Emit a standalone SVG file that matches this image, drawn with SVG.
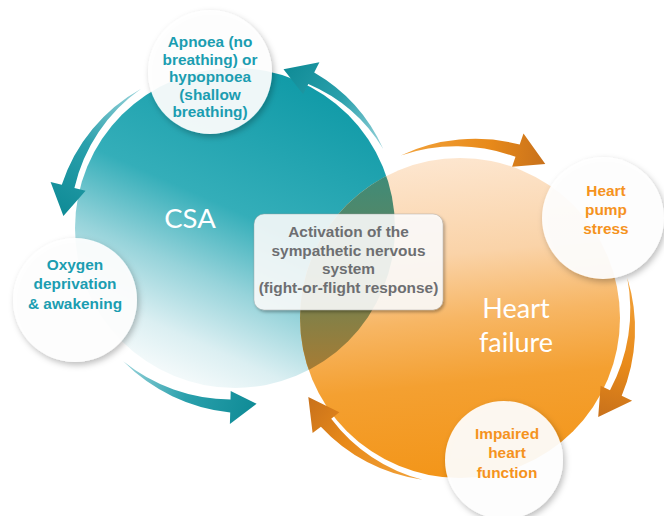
<svg xmlns="http://www.w3.org/2000/svg" width="664" height="516" viewBox="0 0 664 516">
<defs>
<style>
.nt{font-family:"Liberation Sans",Arial,sans-serif;font-weight:700;font-size:15.4px;text-anchor:middle}
.teal{fill:#1b9db1}
.orng{fill:#f5931e}
.box{fill:#6d6e71;font-size:15.4px}
.big{font-family:Lato,"Liberation Sans",sans-serif;font-weight:400;fill:#ffffff;text-anchor:middle}
.node{fill:#ffffff;fill-opacity:0.92;filter:url(#sh)}
</style>
<filter id="sh" x="-30%" y="-30%" width="160%" height="160%">
<feDropShadow dx="2" dy="3" stdDeviation="3" flood-color="#000000" flood-opacity="0.28"/>
</filter>
<filter id="bsh" x="-10%" y="-10%" width="120%" height="130%">
<feDropShadow dx="1.5" dy="2" stdDeviation="1.5" flood-color="#000000" flood-opacity="0.35"/>
</filter>
<linearGradient id="tealG" x1="0.7" y1="0.05" x2="0.3" y2="0.95">
<stop offset="0" stop-color="#129ba8"/>
<stop offset="0.45" stop-color="#34aeb9"/>
<stop offset="0.68" stop-color="#96d3da"/>
<stop offset="0.88" stop-color="#dbeff2"/>
<stop offset="1" stop-color="#f2f9fa"/>
</linearGradient>
<linearGradient id="orG" x1="0.45" y1="0" x2="0.55" y2="1">
<stop offset="0" stop-color="#fde6cf"/>
<stop offset="0.3" stop-color="#fad3a8"/>
<stop offset="0.5" stop-color="#f7b664"/>
<stop offset="0.7" stop-color="#f4a031"/>
<stop offset="1" stop-color="#f39518"/>
</linearGradient>
<linearGradient id="ovG" gradientUnits="userSpaceOnUse" x1="0" y1="165" x2="0" y2="392">
<stop offset="0" stop-color="#3a8c7c"/>
<stop offset="0.5" stop-color="#6b8354"/>
<stop offset="1" stop-color="#b57a2c"/>
</linearGradient>
<clipPath id="tealClip"><circle cx="235" cy="228" r="160"/></clipPath>
<linearGradient id="ta1" gradientUnits="userSpaceOnUse" x1="383" y1="149" x2="283" y2="69">
<stop offset="0" stop-color="#9ad4db"/><stop offset="0.5" stop-color="#2aa0ac"/><stop offset="1" stop-color="#0f8b96"/>
</linearGradient>
<linearGradient id="ta2" gradientUnits="userSpaceOnUse" x1="141" y1="89" x2="63" y2="216">
<stop offset="0" stop-color="#9ad4db"/><stop offset="0.5" stop-color="#2aa0ac"/><stop offset="1" stop-color="#0f8b96"/>
</linearGradient>
<linearGradient id="ta3" gradientUnits="userSpaceOnUse" x1="123" y1="361" x2="257" y2="404">
<stop offset="0" stop-color="#9ad4db"/><stop offset="0.5" stop-color="#2aa0ac"/><stop offset="1" stop-color="#0f8b96"/>
</linearGradient>
<linearGradient id="oa1" gradientUnits="userSpaceOnUse" x1="401" y1="155" x2="545" y2="164">
<stop offset="0" stop-color="#f2a33c"/><stop offset="0.6" stop-color="#e88a1a"/><stop offset="1" stop-color="#c8711b"/>
</linearGradient>
<linearGradient id="oa2" gradientUnits="userSpaceOnUse" x1="627" y1="278" x2="598" y2="417">
<stop offset="0" stop-color="#f2a33c"/><stop offset="0.6" stop-color="#e88a1a"/><stop offset="1" stop-color="#c8711b"/>
</linearGradient>
<linearGradient id="oa3" gradientUnits="userSpaceOnUse" x1="423" y1="480" x2="308" y2="397">
<stop offset="0" stop-color="#f2a33c"/><stop offset="0.6" stop-color="#e88a1a"/><stop offset="1" stop-color="#c8711b"/>
</linearGradient>
</defs>

<rect width="664" height="516" fill="#ffffff"/>

<g id="circles">
<circle id="csa-circle" cx="235" cy="228" r="160" fill="url(#tealG)"/>
<circle id="hf-circle" cx="460" cy="318" r="160" fill="url(#orG)"/>
<circle id="overlap" cx="460" cy="318" r="160" fill="url(#ovG)" clip-path="url(#tealClip)"/>
</g>

<g id="connectors">
<path d="M383.3,149.1 A168,168 0 0 0 314.2,72.5 L319.4,62.3 L283.5,69.3 L303.1,94.3 L308.3,84.1 A162,162 0 0 1 383.3,149.1 Z" fill="url(#ta1)"/>
<path d="M141.1,88.7 A170,170 0 0 0 61.8,184.8 L50.6,182.0 L63.4,216.0 L85.6,190.7 L74.4,188.0 A166,166 0 0 1 141.1,88.7 Z" fill="url(#ta2)"/>
<path d="M123.2,361.3 A176,176 0 0 0 230.2,412.4 L229.9,423.9 L256.6,403.7 L230.7,391.0 L230.5,399.4 A172,172 0 0 1 123.2,361.3 Z" fill="url(#ta3)"/>
<path d="M400.8,155.4 A177,177 0 0 1 519.7,144.5 L523.5,133.6 L545.3,164.1 L512.1,166.7 L515.5,156.8 A172,172 0 0 0 400.8,155.4 Z" fill="url(#oa1)"/>
<path d="M627.3,277.9 A173,173 0 0 1 621.7,395.8 L632.1,400.8 L598.2,417.0 L600.6,385.7 L610.0,390.2 A170,170 0 0 0 627.3,277.9 Z" fill="url(#oa2)"/>
<path d="M422.6,479.7 A170,170 0 0 1 320.9,426.7 L312.6,433.1 L308.3,397.0 L339.4,412.2 L331.2,418.7 A166,166 0 0 0 422.6,479.7 Z" fill="url(#oa3)"/>
</g>

<g id="label-csa"><text class="big" x="190" y="228" font-size="27.5">CSA</text></g>
<g id="label-hf">
<text class="big" x="516" y="318" font-size="27">Heart</text>
<text class="big" x="516" y="352" font-size="27">failure</text>
</g>

<g id="node-apnoea">
<circle class="node" cx="210" cy="72" r="62"/>
<text class="nt teal" x="210" y="47">Apnoea (no</text>
<text class="nt teal" x="210" y="64.5">breathing) or</text>
<text class="nt teal" x="210" y="82">hypopnoea</text>
<text class="nt teal" x="210" y="99.5">(shallow</text>
<text class="nt teal" x="210" y="117">breathing)</text>
</g>

<g id="node-oxygen">
<circle class="node" cx="75" cy="300" r="62"/>
<text class="nt teal" x="75" y="270">Oxygen</text>
<text class="nt teal" x="75" y="289">deprivation</text>
<text class="nt teal" x="75" y="309">&amp; awakening</text>
</g>

<g id="node-pump">
<circle class="node" cx="603" cy="218" r="61"/>
<text class="nt orng" x="606" y="196">Heart</text>
<text class="nt orng" x="606" y="215">pump</text>
<text class="nt orng" x="606" y="234">stress</text>
</g>

<g id="node-impaired">
<circle class="node" cx="504" cy="460" r="59"/>
<text class="nt orng" x="507" y="439">Impaired</text>
<text class="nt orng" x="507" y="458">heart</text>
<text class="nt orng" x="507" y="478">function</text>
</g>

<g id="node-activation">
<rect x="254" y="214" width="189" height="96" rx="10" fill="#ffffff" fill-opacity="0.86" stroke="#9a9a9a" stroke-opacity="0.5" stroke-width="0.8" filter="url(#bsh)"/>
<text class="nt box" x="348.5" y="237">Activation of the</text>
<text class="nt box" x="348.5" y="255.5">sympathetic nervous</text>
<text class="nt box" x="348.5" y="274">system</text>
<text class="nt box" x="348.5" y="292.5">(fight-or-flight response)</text>
</g>
</svg>
